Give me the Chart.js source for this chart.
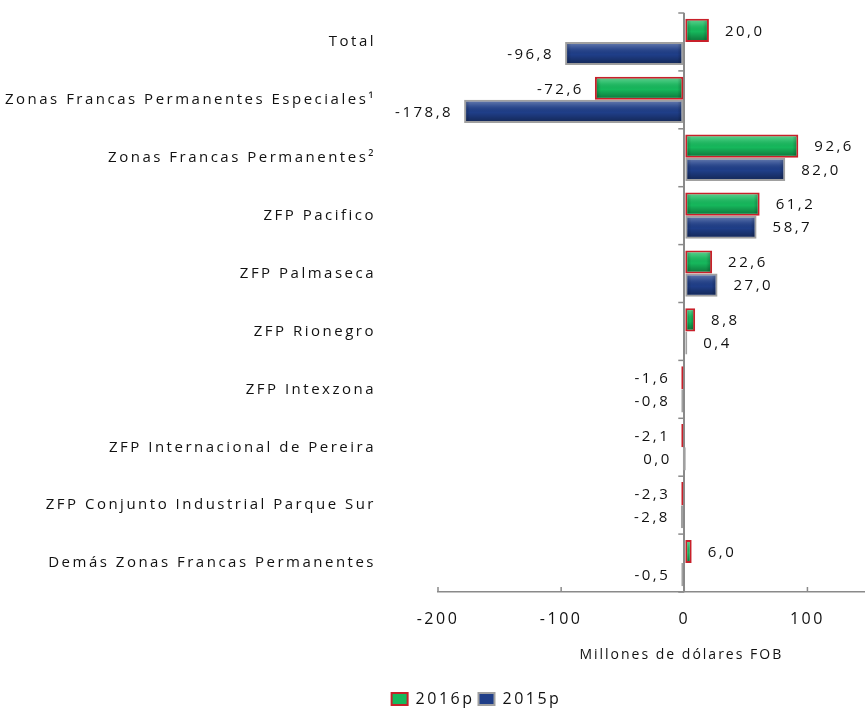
<!DOCTYPE html>
<html>
<head>
<meta charset="utf-8">
<script src="https://cdn.jsdelivr.net/npm/chart.js@4.4.0/dist/chart.umd.min.js"></script>
<style>
  html, body { margin: 0; padding: 0; background: #fff; overflow: hidden; }
  #wrap { position: relative; width: 952px; height: 709px; }
</style>
</head>
<body>
<div id="wrap"><canvas id="chart"></canvas></div>
<script>
// Data
const categories = [
  "Total",
  "Zonas Francas Permanentes Especiales\u00B9",
  "Zonas Francas Permanentes\u00B2",
  "ZFP Pacifico",
  "ZFP Palmaseca",
  "ZFP Rionegro",
  "ZFP Intexzona",
  "ZFP Internacional de Pereira",
  "ZFP Conjunto Industrial Parque Sur",
  "Demás Zonas Francas Permanentes"
];
const values2016 = [20.0, -72.6, 92.6, 61.2, 22.6, 8.8, -1.6, -2.1, -2.3, 6.0];
const values2015 = [-96.8, -178.8, 82.0, 58.7, 27.0, 0.4, -0.8, 0.0, -2.8, -0.5];
const seriesNames = ["2016p", "2015p"];
const xTickValues = [-200, -100, 0, 100];
const axisTitle = "Millones de dólares FOB";

const FONT = "'Open Sans', sans-serif";
const SPACING = "2.5px";
const fmt = v => v.toFixed(1).replace(".", ",");

// 1) Wide letter spacing like the original, and legend placement
const layoutPlugin = {
  id: "layoutTweaks",
  beforeLayout(chart) { chart.ctx.letterSpacing = SPACING; },
  afterLayout(chart) {
    const lg = chart.legend;
    lg.left += 42; lg.right += 42;
    lg.top += 8; lg.bottom += 8;
  },
  beforeDraw(chart) { chart.ctx.letterSpacing = SPACING; }
};

// 2) Bevel look on the bars, value labels, axis marks and axis title
const decorPlugin = {
  id: "decor",
  afterDatasetsDraw(chart) {
    const ctx = chart.ctx;
    const xs = chart.scales.x;
    const ys = chart.scales.y;
    const area = chart.chartArea;

    ctx.save();
    chart.data.datasets.forEach((ds, di) => {
      const meta = chart.getDatasetMeta(di);
      meta.data.forEach(bar => {
        const p = bar.getProps(["x", "y", "base", "height"], true);
        const left = Math.min(p.x, p.base);
        const right = Math.max(p.x, p.base);
        const top = p.y - p.height / 2;
        const w = right - left;
        if (w < 5) return;
        const g = ctx.createLinearGradient(0, top, 0, top + p.height);
        g.addColorStop(0, "rgba(255,255,255,0.35)");
        g.addColorStop(0.25, "rgba(255,255,255,0.12)");
        g.addColorStop(0.55, "rgba(0,0,0,0)");
        g.addColorStop(1, "rgba(0,0,0,0.40)");
        ctx.fillStyle = g;
        ctx.fillRect(left + 2, top + 2, w - 4, p.height - 4);
        const h = ctx.createLinearGradient(left, 0, right, 0);
        const e = Math.min(0.5, 6 / w);
        h.addColorStop(0, "rgba(0,0,0,0.30)");
        h.addColorStop(e, "rgba(0,0,0,0)");
        h.addColorStop(1 - e, "rgba(0,0,0,0)");
        h.addColorStop(1, "rgba(0,0,0,0.30)");
        ctx.fillStyle = h;
        ctx.fillRect(left + 2, top + 2, w - 4, p.height - 4);
      });
    });

    // value labels: right of positive bars, left of the others
    ctx.font = "15px " + FONT;
    ctx.fillStyle = "#111";
    ctx.textBaseline = "middle";
    chart.data.datasets.forEach((ds, di) => {
      const meta = chart.getDatasetMeta(di);
      meta.data.forEach((bar, i) => {
        const v = ds.data[i];
        const p = bar.getProps(["x", "y", "base"], true);
        if (v > 0) {
          ctx.textAlign = "left";
          ctx.fillText(fmt(v), Math.max(p.x, p.base) + 16, p.y + 1);
        } else {
          ctx.textAlign = "right";
          ctx.fillText(fmt(v), Math.min(p.x, p.base) - 11, p.y + 1);
        }
      });
    });

    // small tick marks on the category axis (at the zero line)
    const zx = xs.getPixelForValue(0);
    const step = ys.getPixelForValue(1) - ys.getPixelForValue(0);
    ctx.strokeStyle = "#8a8a8a";
    ctx.lineWidth = 1.5;
    for (let i = 0; i <= categories.length; i++) {
      const yy = ys.getPixelForValue(0) - step / 2 + i * step;
      ctx.beginPath();
      ctx.moveTo(zx - 6, yy);
      ctx.lineTo(zx, yy);
      ctx.stroke();
    }
    // tick marks on the value axis, pointing up
    xTickValues.forEach(v => {
      const xx = xs.getPixelForValue(v);
      ctx.beginPath();
      ctx.moveTo(xx, area.bottom - 5);
      ctx.lineTo(xx, area.bottom);
      ctx.stroke();
    });

    // axis title
    ctx.font = "14px " + FONT;
    ctx.letterSpacing = "2px";
    ctx.textAlign = "center";
    ctx.fillStyle = "#111";
    ctx.fillText(axisTitle, zx - 3, xs.top + 63);
    ctx.restore();
  }
};

const ctx = document.getElementById("chart");

new Chart(ctx, {
  type: "bar",
  data: {
    labels: categories,
    datasets: [
      {
        label: seriesNames[0],
        data: values2016,
        backgroundColor: "#16b85c",
        borderColor: "#c8202a",
        borderWidth: 2,
        borderSkipped: false,
        minBarLength: 3
      },
      {
        label: seriesNames[1],
        data: values2015,
        backgroundColor: "#1f3e88",
        borderColor: "#a0a0a0",
        borderWidth: 2,
        borderSkipped: false,
        minBarLength: 3
      }
    ]
  },
  options: {
    indexAxis: "y",
    responsive: true,
    maintainAspectRatio: false,
    animation: false,
    layout: { padding: { left: 0, right: 83, top: 13, bottom: 0 } },
    plugins: {
      tooltip: { enabled: false },
      legend: {
        position: "bottom",
        labels: {
          font: { family: FONT, size: 16 },
          color: "#111",
          boxWidth: 16,
          boxHeight: 12,
          padding: 4
        }
      }
    },
    datasets: {
      bar: { categoryPercentage: 0.8, barPercentage: 1.0 }
    },
    scales: {
      x: {
        min: -200,
        max: 150,
        afterBuildTicks(scale) {
          scale.ticks = xTickValues.map(v => ({ value: v }));
        },
        afterFit(scale) { scale.height = 87; },
        grid: {
          drawTicks: false,
          color: c => (c.tick && c.tick.value === 0 ? "#8a8a8a" : "rgba(0,0,0,0)"),
          lineWidth: c => (c.tick && c.tick.value === 0 ? 2 : 0)
        },
        border: { display: true, color: "#8a8a8a", width: 1.5 },
        ticks: {
          padding: 18,
          color: "#111",
          font: { family: FONT, size: 16 },
          callback: v => String(v)
        }
      },
      y: {
        afterFit(scale) {
          scale.width = 438;
          scale.paddingTop = 0;
          scale.paddingBottom = 0;
        },
        grid: { display: false },
        border: { display: false },
        ticks: {
          padding: 54,
          color: "#111",
          font: { family: FONT, size: 15 }
        }
      }
    }
  },
  plugins: [layoutPlugin, decorPlugin]
});
</script>
</body>
</html>
